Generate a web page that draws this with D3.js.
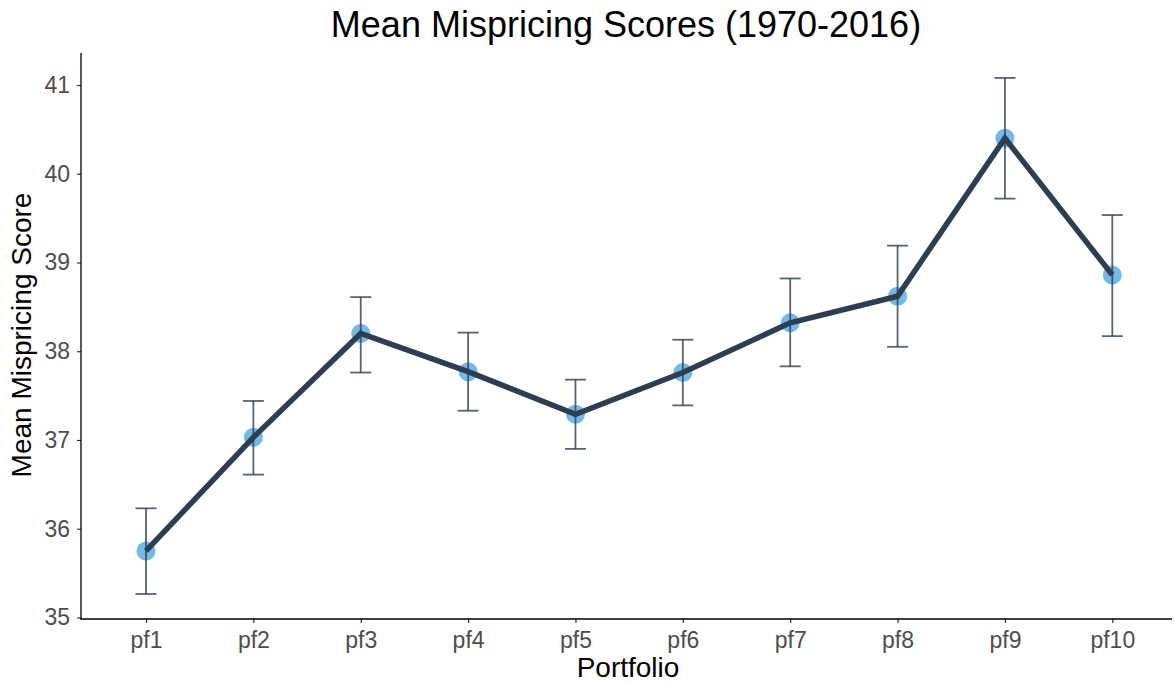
<!DOCTYPE html>
<html><head><meta charset="utf-8">
<script src="https://cdn.jsdelivr.net/npm/d3@7"></script>
<style>body{margin:0;background:#fff}svg{display:block;font-family:"Liberation Sans",Arial,sans-serif}</style>
</head><body>
<svg id="c" width="1175" height="682"></svg>
<script>
const categories = ["pf1","pf2","pf3","pf4","pf5","pf6","pf7","pf8","pf9","pf10"];
const meanScores = [35.75,37.03,38.20,37.77,37.29,37.76,38.32,38.62,40.40,38.86];
const upperCI   = [36.23,37.44,38.61,38.21,37.68,38.13,38.82,39.19,41.08,39.535];
const lowerCI   = [35.265,36.61,37.76,37.33,36.90,37.39,37.83,38.05,39.72,38.17];
const yTicks = [35,36,37,38,39,40,41];

const svg = d3.select("#c");
const x = d3.scalePoint().domain(categories).range([146,1112.3]);
const y = d3.scaleLinear().domain([35,41]).range([617.5,85]);
const data = categories.map((c,i)=>({c, m:meanScores[i], hi:upperCI[i], lo:lowerCI[i]}));

// axes
const yAx = svg.append("g").attr("transform","translate(81,0)")
  .call(d3.axisLeft(y).tickValues(yTicks).tickSize(4).tickPadding(7).tickFormat(d3.format("d")));
yAx.select(".domain").remove();
const xAx = svg.append("g").attr("transform","translate(0,619)")
  .call(d3.axisBottom(x).tickSize(4).tickPadding(9));
xAx.select(".domain").remove();
[yAx,xAx].forEach(g=>{
  g.selectAll("text").attr("font-size",23).attr("fill","#4d4d4d").attr("font-family","Liberation Sans, Arial, sans-serif");
  g.selectAll("line").attr("stroke","#333").attr("stroke-width",1.2);
});
svg.append("line").attr("x1",81).attr("x2",81).attr("y1",53).attr("y2",619.6).attr("stroke","#000").attr("stroke-width",1.3);
svg.append("line").attr("x1",80.4).attr("x2",1172).attr("y1",619).attr("y2",619).attr("stroke","#000").attr("stroke-width",1.3);

// points
svg.append("g").selectAll("circle").data(data).join("circle")
  .attr("cx",d=>x(d.c)).attr("cy",d=>y(d.m)).attr("r",9.5)
  .attr("fill","#5dade2").attr("fill-opacity",0.85);

// error bars
const eb = svg.append("g").attr("stroke","#2c3e50").attr("stroke-opacity",0.8).attr("stroke-width",1.8);
eb.selectAll("line.v").data(data).join("line").attr("class","v")
  .attr("x1",d=>x(d.c)).attr("x2",d=>x(d.c)).attr("y1",d=>y(d.hi)).attr("y2",d=>y(d.lo));
eb.selectAll("line.t").data(data).join("line").attr("class","t")
  .attr("x1",d=>x(d.c)-10.5).attr("x2",d=>x(d.c)+10.5).attr("y1",d=>y(d.hi)).attr("y2",d=>y(d.hi));
eb.selectAll("line.b").data(data).join("line").attr("class","b")
  .attr("x1",d=>x(d.c)-10.5).attr("x2",d=>x(d.c)+10.5).attr("y1",d=>y(d.lo)).attr("y2",d=>y(d.lo));

// line
svg.append("path").datum(data)
  .attr("d",d3.line().x(d=>x(d.c)).y(d=>y(d.m)))
  .attr("fill","none").attr("stroke","#2c3e50").attr("stroke-width",5.5).attr("stroke-linejoin","miter");

// titles
svg.append("text").attr("x",626).attr("y",37).attr("text-anchor","middle")
  .attr("font-size",36).attr("fill","#000").text("Mean Mispricing Scores (1970-2016)");
svg.append("text").attr("x",628).attr("y",677).attr("text-anchor","middle")
  .attr("font-size",28).attr("fill","#000").text("Portfolio");
svg.append("text").attr("transform","translate(31,335) rotate(-90)").attr("text-anchor","middle")
  .attr("font-size",28).attr("fill","#000").text("Mean Mispricing Score");
</script>
</body></html>
